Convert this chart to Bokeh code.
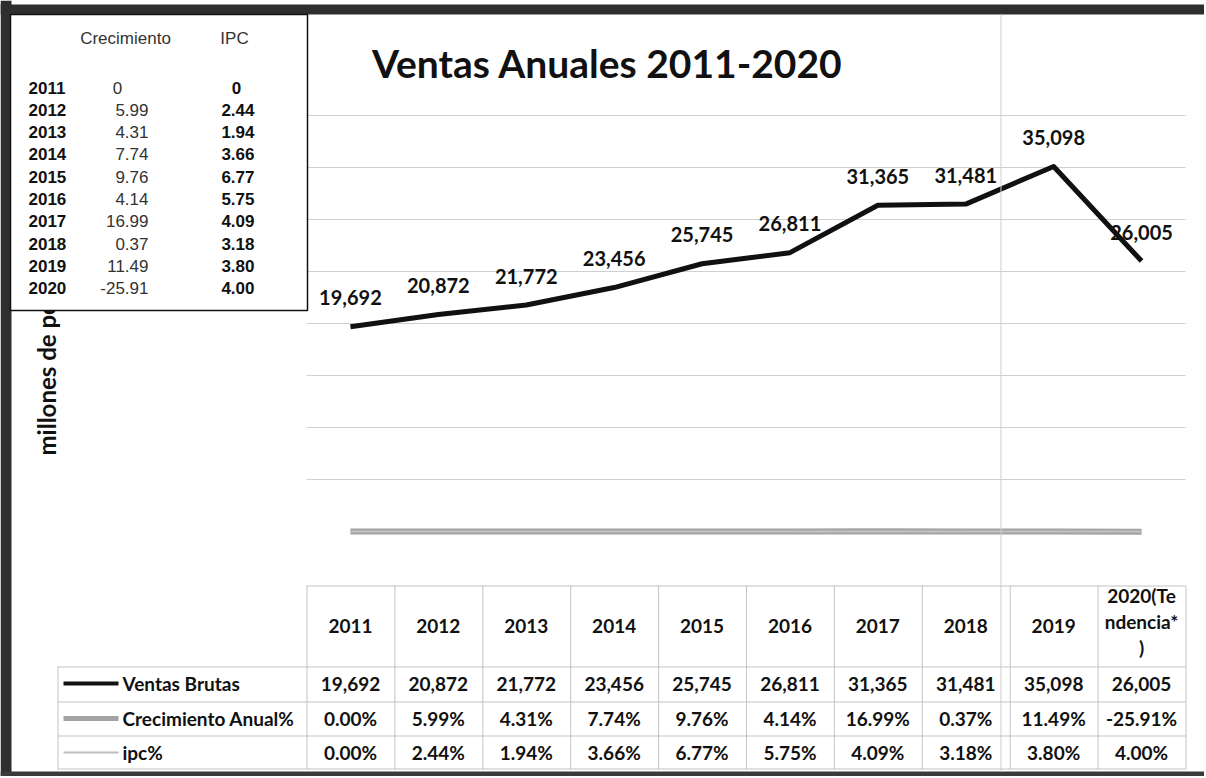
import numpy as np
from bokeh.plotting import figure
from bokeh.models import Range1d, Label, BoxAnnotation
from bokeh.core.properties import value
from bokeh.embed import file_html
from bokeh.resources import INLINE

# ---------------- data ----------------
years = ["2011", "2012", "2013", "2014", "2015", "2016", "2017", "2018", "2019", "2020"]
ventas = [19692, 20872, 21772, 23456, 25745, 26811, 31365, 31481, 35098, 26005]
crecimiento = [0, 5.99, 4.31, 7.74, 9.76, 4.14, 16.99, 0.37, 11.49, -25.91]
ipc = [0, 2.44, 1.94, 3.66, 6.77, 5.75, 4.09, 3.18, 3.80, 4.00]
table_headers = ["2011", "2012", "2013", "2014", "2015", "2016", "2017", "2018", "2019",
                 "2020(Te\nndencia*\n)"]
series_names = ["Ventas Brutas", "Crecimiento Anual%", "ipc%"]
inset_headers = ["Crecimiento", "IPC"]
y_ticks = [5000, 10000, 15000, 20000, 25000, 30000, 35000, 40000]
title_text = "Ventas Anuales 2011-2020"
y_label = "millones de pesos"

# ---------------- layout ----------------
W, H = 1204, 776
# plot area (in page px): x 306..1185 holds the 10 categories, y: 0 -> 531px, 40000 -> 115px
PX_X0, PX_X1 = 306.0, 1185.0
CW = (PX_X1 - PX_X0) / len(years)          # px per category
Y0_PX, PX_PER_UNIT = 531.0, (531.0 - 115.0) / 40000.0

xs = list(range(len(years)))                # category positions (0..9)
x_start = -0.5 - PX_X0 / CW
x_end = x_start + W / CW
y_end = Y0_PX / PX_PER_UNIT
y_start = y_end - H / PX_PER_UNIT

p = figure(width=W, height=H,
           x_range=Range1d(x_start, x_end), y_range=Range1d(y_start, y_end),
           output_backend="svg", toolbar_location=None,
           min_border=0, min_border_left=0, min_border_right=0,
           min_border_top=0, min_border_bottom=0)
p.xaxis.visible = False
p.yaxis.visible = False
p.grid.visible = False
p.outline_line_color = None
p.background_fill_color = "white"
p.border_fill_color = "white"

FONT = "Lato"
ARIAL = "Liberation Sans"


def S(rx, ry):
    """page px -> screen units (y up from bottom)"""
    return rx, H - ry


def label(rx, ry, text, size="18px", bold=True, align="center", baseline="middle",
          font=FONT, color="#111111", angle=0.0, line_height=1.2):
    sx, sy = S(rx, ry)
    p.add_layout(Label(x=sx, y=sy, x_units="screen", y_units="screen", text=text,
                       text_align=align, text_baseline=baseline, text_font=font,
                       text_font_size=size, text_font_style="bold" if bold else "normal",
                       text_color=color, angle=angle, text_line_height=line_height))


def box(rx0, ry0, rx1, ry1, fill="#c4c4c4", line=None, lw=1):
    l, t = S(rx0, ry0)
    r, b = S(rx1, ry1)
    p.add_layout(BoxAnnotation(left=l, right=r, top=t, bottom=b,
                               left_units="screen", right_units="screen",
                               top_units="screen", bottom_units="screen",
                               fill_color=fill if fill else "white",
                               fill_alpha=1.0 if fill else 0.0,
                               line_color=line if line else "white",
                               line_alpha=1.0 if line else 0.0,
                               line_width=lw))


# ---------------- gridlines & series ----------------
p.segment(x0=[-0.5] * len(y_ticks), x1=[len(years) - 0.5] * len(y_ticks),
          y0=y_ticks, y1=y_ticks, line_color="#d0d0d0", line_width=1)
p.line(xs, crecimiento, line_color="#a3a3a3", line_width=6)
p.line(xs, ipc, line_color="#c2c2c2", line_width=2)
p.line(xs, ventas, line_color="#111111", line_width=5, line_join="round")
p.text(x=xs, y=ventas, text=[f"{v:,}" for v in ventas],
       text_align="center", text_baseline="middle", y_offset=-29,
       text_font=value(FONT), text_font_style="bold", text_font_size="20px",
       text_color="#111111")

# ---------------- scan borders / crease ----------------
box(0, 4, 1206, 14, fill="#2e2e2e")
box(0, 0, 11, 778, fill="#2e2e2e")
box(0, 771, 1206, 776, fill="#3a3a3a")
box(1000, 14, 1001, 771, fill="#cdcdcd")

# ---------------- title & axis label ----------------
label(607, 62, title_text, size="39px")
label(46, 455, y_label, size="24px", align="left", angle=np.pi / 2)

# ---------------- data table ----------------
col_x = [PX_X0 + CW * i for i in range(len(years) + 1)]
grid = "#c4c4c4"
box(PX_X0, 585, PX_X1, 586, fill=grid)
for x in col_x:
    box(x, 585, x + 1, 769, fill=grid)
for y in [666, 701, 735, 768]:
    box(57, y, PX_X1, y + 1, fill=grid)
box(57, 666, 58, 769, fill=grid)

for i, h in enumerate(table_headers):
    cx = (col_x[i] + col_x[i + 1]) / 2
    if "\n" in h:
        label(cx, 621, h, size="19px", line_height=1.15)
    else:
        label(cx, 625, h, size="19px")

row_y = [683, 718, 752]
key_style = [("#111111", 4), ("#a3a3a3", 5), ("#bdbdbd", 2)]
for (name, yy, (kc, kw)) in zip(series_names, row_y, key_style):
    box(63, yy - kw / 2, 118, yy + kw / 2, fill=kc)
    label(122, yy, name, size="19px", align="left")

rows = [[f"{v:,}" for v in ventas],
        [f"{v:.2f}%" for v in crecimiento],
        [f"{v:.2f}%" for v in ipc]]
for r, yy in zip(rows, row_y):
    for i, t in enumerate(r):
        cx = (col_x[i] + col_x[i + 1]) / 2
        label(cx, yy, t, size="19px")

# ---------------- inset box (covers part of axis label) ----------------
box(10, 14, 307, 310, fill="white", line="#111111", lw=1.5)
label(125, 38, inset_headers[0], size="17px", bold=False, font=ARIAL, color="#333333")
label(234, 38, inset_headers[1], size="17px", bold=False, font=ARIAL, color="#333333")
for i, (yr, c, q) in enumerate(zip(years, crecimiento, ipc)):
    yy = 87 + 22.3 * i
    label(28, yy, yr, size="17px", font=ARIAL, align="left")
    if c == 0:
        label(117, yy, "0", size="17px", bold=False, font=ARIAL, color="#333333")
    else:
        label(148, yy, f"{c:.2f}", size="17px", bold=False, font=ARIAL,
              color="#333333", align="right")
    if q == 0:
        label(236, yy, "0", size="17px", font=ARIAL)
    else:
        label(254, yy, f"{q:.2f}", size="17px", font=ARIAL, align="right")

open("out.html", "w").write(file_html(p, INLINE))
